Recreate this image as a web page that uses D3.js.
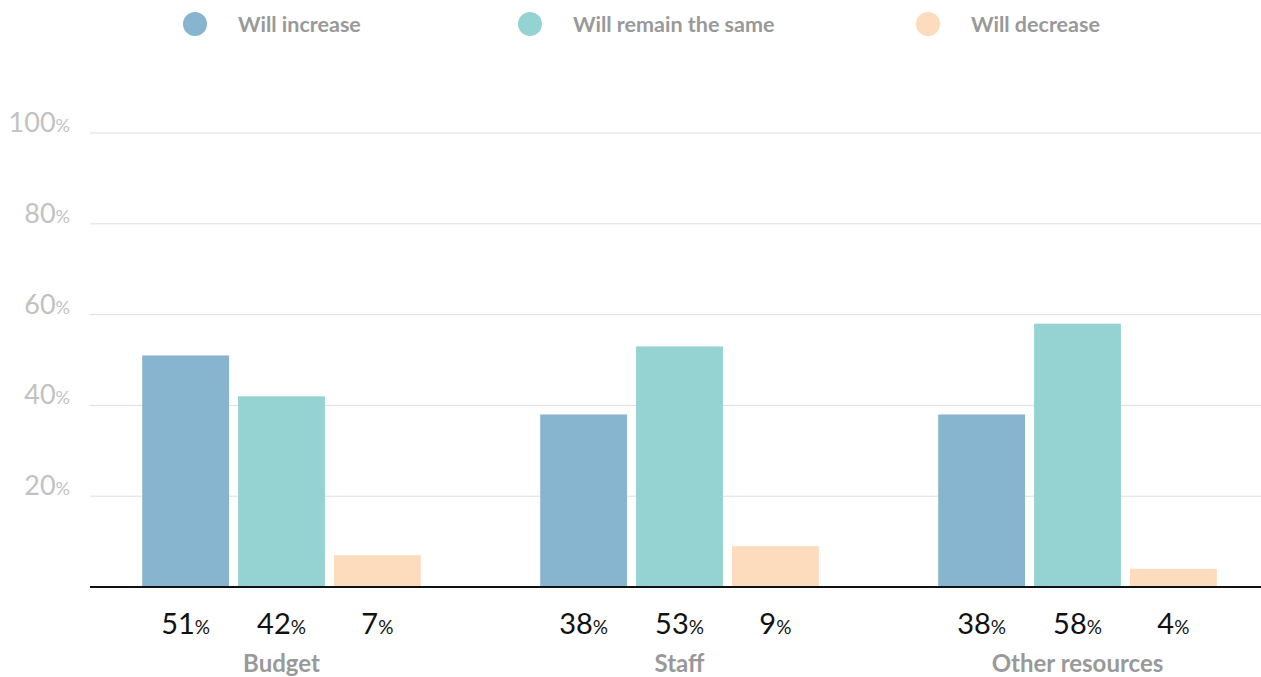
<!DOCTYPE html>
<html>
<head>
<meta charset="utf-8">
<script src="https://cdn.jsdelivr.net/npm/d3@7"></script>
<style>
  html, body { margin: 0; padding: 0; background: #fff; }
  svg { display: block; font-family: Lato, "Open Sans", sans-serif; }
</style>
</head>
<body>
<svg id="chart" width="1261" height="677"></svg>
<script>
// Outlook on resources, by category
const categories = ["Budget", "Staff", "Other resources"];
const seriesNames = ["Will increase", "Will remain the same", "Will decrease"];
const willIncrease = [51, 38, 38];
const willRemain = [42, 53, 58];
const willDecrease = [7, 9, 4];
const yTicks = [20, 40, 60, 80, 100];
const colors = ["#87b4cf", "#95d3d3", "#fddbbd"];

const series = [willIncrease, willRemain, willDecrease];

const svg = d3.select("#chart");
const W = 1261;

const y = d3.scaleLinear().domain([0, 100]).range([587, 133]);

const x0 = d3.scaleBand()
  .domain(categories)
  .range([82.5, 1276.5])
  .paddingInner(0.3)
  .paddingOuter(0.15);

const x1 = d3.scaleBand()
  .domain(seriesNames)
  .range([0, x0.bandwidth()])
  .paddingInner(0.094)
  .paddingOuter(0);

// Grid lines
svg.append("g")
  .selectAll("line")
  .data(yTicks)
  .join("line")
  .attr("x1", 90).attr("x2", W)
  .attr("y1", d => y(d)).attr("y2", d => y(d))
  .attr("stroke", "#dedede").attr("stroke-width", 1);

// Y tick labels
const yl = svg.append("g")
  .selectAll("text")
  .data(yTicks)
  .join("text")
  .attr("x", 70)
  .attr("y", d => y(d) - 1)
  .attr("text-anchor", "end")
  .attr("fill", "#c2c2c2")
  .attr("font-size", 27);
yl.append("tspan").text(d => d);
yl.append("tspan").attr("font-size", 18).text("%");

// Bars
const groups = svg.append("g")
  .selectAll("g")
  .data(categories)
  .join("g")
  .attr("transform", c => `translate(${x0(c)},0)`);

groups.selectAll("rect")
  .data((c, i) => seriesNames.map((s, j) => ({ s, j, v: series[j][i] })))
  .join("rect")
  .attr("x", d => x1(d.s))
  .attr("width", x1.bandwidth())
  .attr("y", d => y(d.v))
  .attr("height", d => y(0) - y(d.v))
  .attr("fill", d => colors[d.j]);

// Value labels
const vl = groups.selectAll("text.val")
  .data((c, i) => seriesNames.map((s, j) => ({ s, j, v: series[j][i] })))
  .join("text")
  .attr("class", "val")
  .attr("x", d => x1(d.s) + x1.bandwidth() / 2)
  .attr("y", 634)
  .attr("text-anchor", "middle")
  .attr("fill", "#111")
  .attr("font-size", 29);
vl.append("tspan").text(d => d.v);
vl.append("tspan").attr("font-size", 19).text("%");

// Category labels
groups.append("text")
  .attr("x", x0.bandwidth() / 2)
  .attr("y", 672)
  .attr("text-anchor", "middle")
  .attr("fill", "#999")
  .attr("font-weight", "bold")
  .attr("font-size", 24)
  .text(c => c);

// Baseline
svg.append("line")
  .attr("x1", 90).attr("x2", W)
  .attr("y1", y(0)).attr("y2", y(0))
  .attr("stroke", "#111").attr("stroke-width", 2);

// Legend
const legendX = [195, 530, 928];
const lg = svg.append("g")
  .selectAll("g")
  .data(seriesNames)
  .join("g")
  .attr("transform", (d, i) => `translate(${legendX[i]},24)`);
lg.append("circle").attr("r", 12).attr("fill", (d, i) => colors[i]);
lg.append("text")
  .attr("x", 43)
  .attr("y", 8)
  .attr("fill", "#999")
  .attr("font-weight", "bold")
  .attr("font-size", 21.5)
  .text(d => d);
</script>
</body>
</html>
